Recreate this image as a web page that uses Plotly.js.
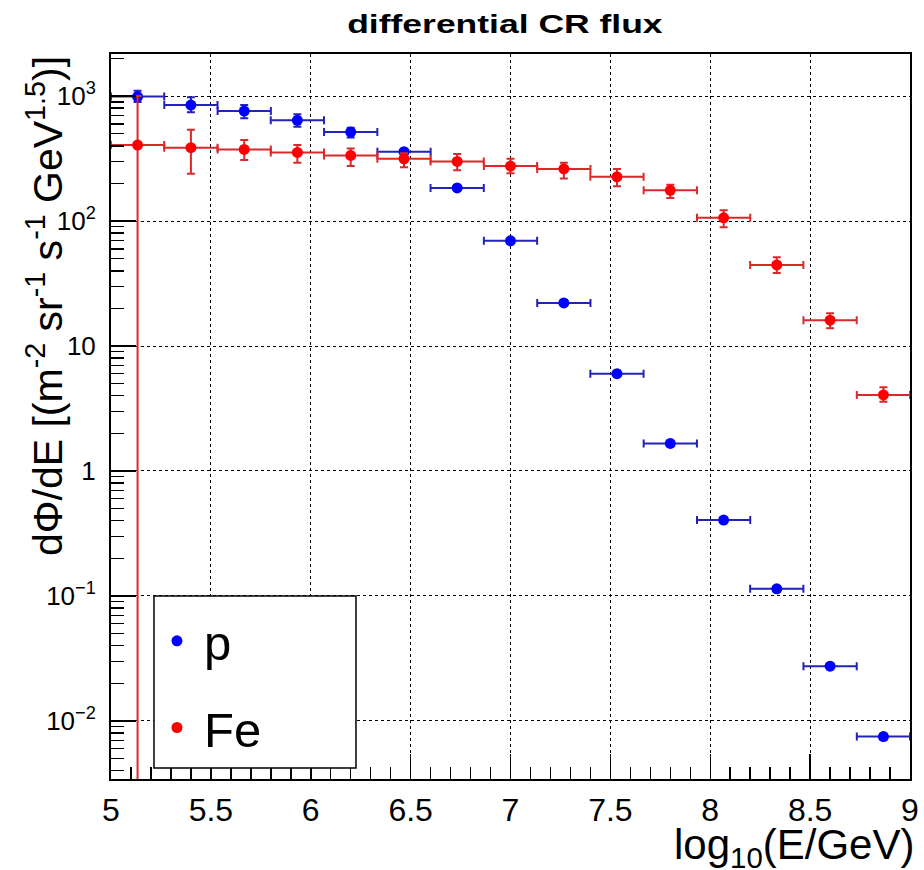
<!DOCTYPE html>
<html>
<head>
<meta charset="utf-8">
<script src="https://cdn.plot.ly/plotly-3.0.1.min.js"></script>
<style>
html,body{margin:0;padding:0;background:#fff;}
#chart{width:924px;height:870px;}
.gtitle{transform-box:fill-box;transform-origin:center;transform:scaleX(1.42);}
</style>
</head>
<body>
<div id="chart"></div>
<script>
// ---- data ----
const binCenters = [5.133, 5.4, 5.667, 5.933, 6.2, 6.467, 6.733, 7.0, 7.267, 7.533, 7.8, 8.067, 8.333, 8.6, 8.867];
const binHalfWidth = 0.1333;

const pFlux    = [990, 847, 759, 639, 515, 359, 184, 69.5, 22.1, 6.0, 1.66, 0.405, 0.114, 0.0274, 0.0075];
const pErrUp   = [113, 129, 88, 75, 42, 15, 7, 3, 1, 0.3, 0.08, 0.02, 0.006, 0.0015, 0.0004];
const pErrDown = [95, 106, 96, 71, 48, 15, 7, 3, 1, 0.3, 0.08, 0.02, 0.006, 0.0015, 0.0004];

const feFlux    = [405, 386, 374, 354, 335, 315, 300, 275, 261, 226, 176, 106, 44.5, 16.1, 4.06];
const feErrUp   = [595, 152, 71, 51, 46, 33, 44, 40, 32, 35, 19, 16, 6.7, 2.2, 0.61];
const feErrDown = [405, 147, 66, 62, 60, 46, 45, 34, 42, 36, 23, 17, 6.1, 2.2, 0.48];

const xTickVals = [5, 5.5, 6, 6.5, 7, 7.5, 8, 8.5, 9];
const xTickText = ["5", "5.5", "6", "6.5", "7", "7.5", "8", "8.5", "9"];
const yTickVals = [0.01, 0.1, 1, 10, 100, 1000];
const yTickText = ["10<sup>\u22122</sup>", "10<sup>\u22121</sup>", "1", "10", "10<sup>2</sup>", "10<sup>3</sup>"];

// minor tick positions for the log axis (2..9 in each decade)
const yMinor = [];
for (let e = -3; e <= 3; e++) for (let d = 2; d <= 9; d++) yMinor.push(d * Math.pow(10, e));

const FONT = "Liberation Sans, Arial, Helvetica, sans-serif";

function series(name, y, up, down, mcol, ecol, grp) {
  return {
    type: "scatter", mode: "markers", name: name, legendgroup: grp,
    x: binCenters, y: y,
    marker: {color: mcol, size: 11, symbol: "circle"},
    error_x: {type: "constant", value: binHalfWidth, color: ecol, thickness: 2, width: 4},
    error_y: {type: "data", symmetric: false, array: up, arrayminus: down, color: ecol, thickness: 2, width: 4},
    cliponaxis: true
  };
}

const data = [
  series("p", pFlux, pErrUp, pErrDown, "#0000ff", "#2323b8", "g1"),
  series("Fe", feFlux, feErrUp, feErrDown, "#ff0000", "#d82a2a", "g2")
];

const layout = {
  width: 924, height: 870,
  margin: {l: 111, r: 14, t: 54, b: 91, pad: 0},
  paper_bgcolor: "#fff", plot_bgcolor: "#fff",
  font: {family: FONT, color: "#000"},
  title: {text: "differential CR flux", font: {family: FONT, size: 25, weight: "bold", color: "#000"},
          x: 0.493, xref: "paper", xanchor: "center", y: 0.982, yref: "container", yanchor: "top"},
  showlegend: true,
  legend: {x: 0.0488, y: 0.2435, xanchor: "left", yanchor: "top", bgcolor: "rgba(0,0,0,0)", borderwidth: 0,
           font: {family: FONT, size: 49, color: "#000"}, itemwidth: 44, tracegroupgap: 20, traceorder: "grouped"},
  xaxis: {
    range: [5, 9], showline: true, linecolor: "#000", linewidth: 2, mirror: true,
    tickmode: "array", tickvals: xTickVals, ticktext: xTickText,
    ticks: "inside", ticklen: 25, tickwidth: 1.5, tickcolor: "#000",
    tickfont: {family: FONT, size: 32, color: "#000"}, ticklabelstandoff: 2,
    showgrid: true, gridcolor: "#000", gridwidth: 1, griddash: "dot", zeroline: false,
    minor: {tickmode: "linear", tick0: 5, dtick: 0.1, ticks: "inside", ticklen: 12, tickwidth: 1.5, tickcolor: "#000", showgrid: false}
  },
  yaxis: {
    type: "log", range: [Math.log10(0.00343), Math.log10(2170)],
    showline: true, linecolor: "#000", linewidth: 2, mirror: true,
    tickmode: "array", tickvals: yTickVals, ticktext: yTickText,
    ticks: "inside", ticklen: 25, tickwidth: 1.5, tickcolor: "#000",
    tickfont: {family: FONT, size: 26, color: "#000"}, ticklabelstandoff: 8,
    showgrid: true, gridcolor: "#000", gridwidth: 1, griddash: "dot", zeroline: false,
    minor: {tickmode: "array", tickvals: yMinor, ticks: "inside", ticklen: 13, tickwidth: 1.5, tickcolor: "#000", showgrid: false}
  },
  shapes: [
    {type: "rect", xref: "paper", yref: "paper", x0: 0.0538, x1: 0.3066, y0: 0.0152, y1: 0.2524,
     line: {color: "#000", width: 1.5}, fillcolor: "#fff", layer: "above"}
  ],
  annotations: [
    {text: "log<sub>10</sub>(E/GeV)", xref: "paper", yref: "paper", x: 1, y: 0, xanchor: "right", yanchor: "top",
     xshift: 6, yshift: -40, showarrow: false, font: {family: FONT, size: 42, color: "#000"}},
    {text: "d\u03A6/dE [(m<sup>-2</sup> sr<sup>-1</sup> s<sup>-1</sup> GeV<sup>1.5</sup>)]", xref: "paper", yref: "paper",
     x: -0.0826, y: 1, xanchor: "center", yanchor: "top", textangle: -90, showarrow: false,
     font: {family: FONT, size: 41, color: "#000"}}
  ]
};

Plotly.newPlot("chart", data, layout, {displayModeBar: false, staticPlot: true});
</script>
</body>
</html>
